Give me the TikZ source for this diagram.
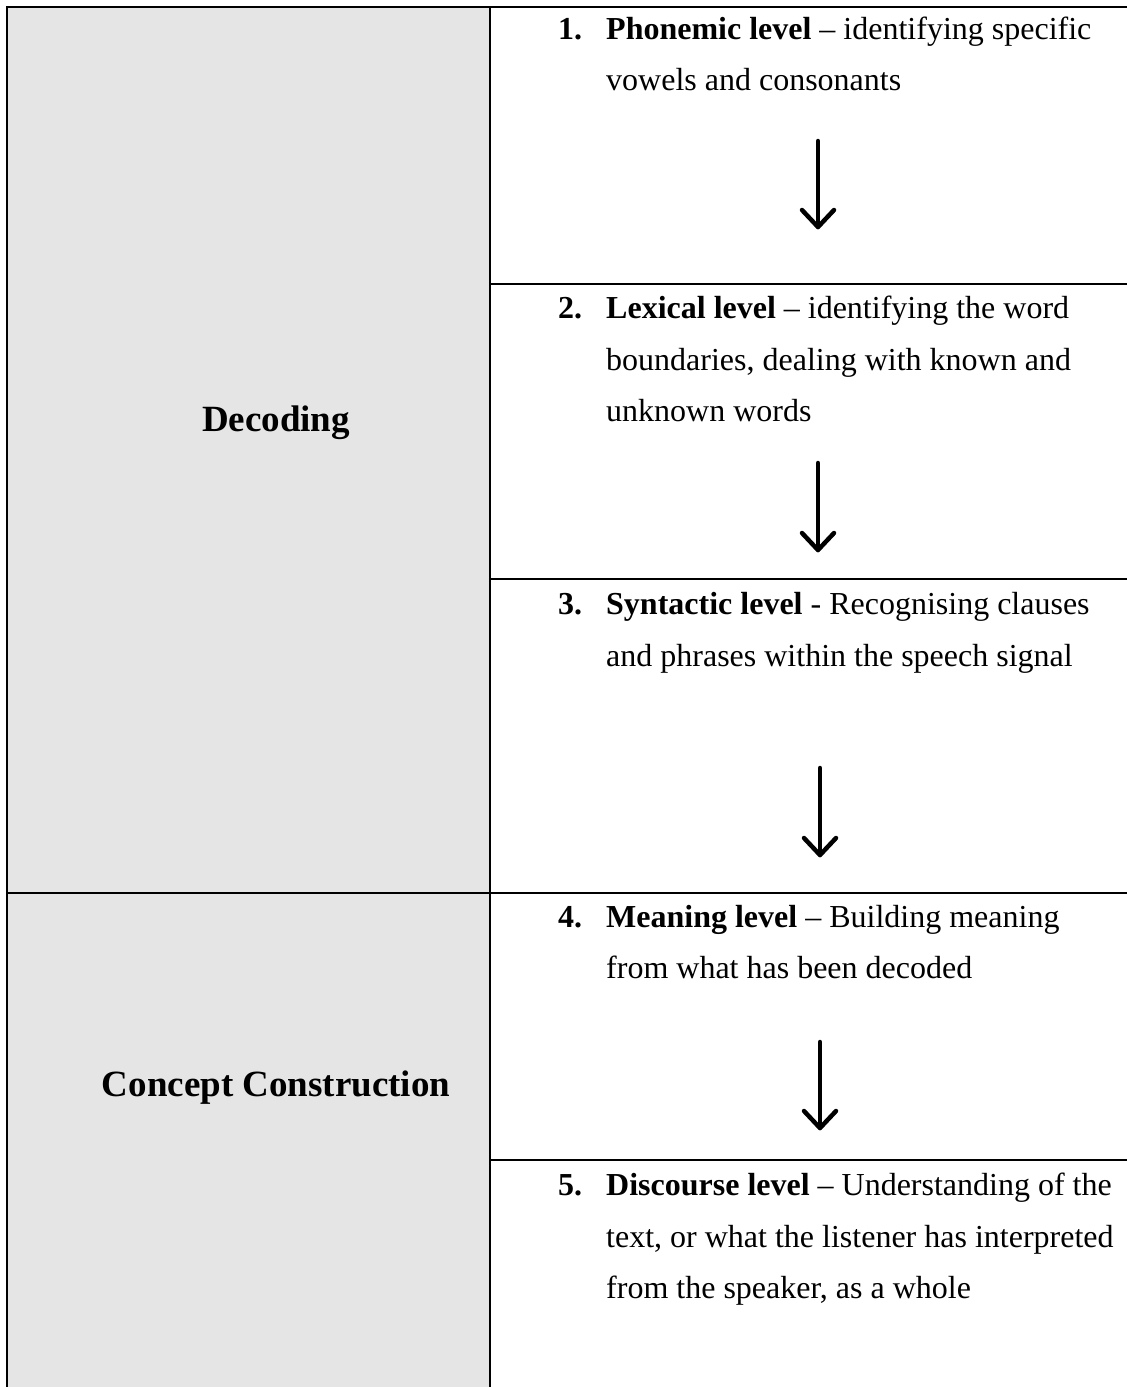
\documentclass[tikz,border=0pt]{standalone}
\usepackage{fontspec}
\setmainfont{Liberation Serif}
\begin{document}
\begin{tikzpicture}[x=1pt,y=-1pt,
  rule/.style={line width=2.8pt},
  body/.style={anchor=base west,inner sep=0pt,font=\fontsize{32}{38}\selectfont},
  num/.style={body,font=\fontsize{32}{38}\selectfont\bfseries},
  head/.style={anchor=base,inner sep=0pt,font=\fontsize{37}{44}\selectfont\bfseries},
  flow/.style={line width=4.5pt,line cap=round,line join=round}]
\useasboundingbox (0,0) rectangle (1127,1387);
\fill[white] (0,0) rectangle (1127,1387);
\fill[black!10] (7,7) rectangle (490,1387);
% grid
\draw[rule] (7,1387) -- (7,7) -- (1127,7);
\draw[rule] (490,7) -- (490,1387);
\draw[rule] (490,284) -- (1127,284);
\draw[rule] (490,579) -- (1127,579);
\draw[rule] (7,893) -- (1127,893);
\draw[rule] (490,1160) -- (1127,1160);
% left column
\node[head] (dec) at (276,431) {Decoding};
\node[head] (con) at (276,1096) {Concept Construction};
% row 1
\node[num] (n1) at (558,39) {1.};
\node[body] (t1a) at (606,39) {\textbf{Phonemic level} – identifying specific};
\node[body] (t1b) at (606,90) {vowels and consonants};
% row 2
\node[num] (n2) at (558,318) {2.};
\node[body] (t2a) at (606,318) {\textbf{Lexical level} – identifying the word};
\node[body] (t2b) at (606,370) {boundaries, dealing with known and};
\node[body] (t2c) at (606,421) {unknown words};
% row 3
\node[num] (n3) at (558,614) {3.};
\node[body] (t3a) at (606,614) {\textbf{Syntactic level} - Recognising clauses};
\node[body] (t3b) at (606,666) {and phrases within the speech signal};
% row 4
\node[num] (n4) at (558,927) {4.};
\node[body] (t4a) at (606,927) {\textbf{Meaning level} – Building meaning};
\node[body] (t4b) at (606,978) {from what has been decoded};
% row 5
\node[num] (n5) at (558,1195) {5.};
\node[body] (t5a) at (606,1195) {\textbf{Discourse level} – Understanding of the};
\node[body] (t5b) at (606,1247) {text, or what the listener has interpreted};
\node[body] (t5c) at (606,1298) {from the speaker, as a whole};
% arrows
\coordinate (a1s) at (818,141); \coordinate (a1e) at (818,227);
\coordinate (a2s) at (818,463); \coordinate (a2e) at (818,550);
\coordinate (a3s) at (820,768); \coordinate (a3e) at (820,855);
\coordinate (a4s) at (820,1042); \coordinate (a4e) at (820,1128);
\foreach \s/\e in {a1s/a1e,a2s/a2e,a3s/a3e,a4s/a4e}{
  \draw[flow] (\s) -- (\e);
  \draw[flow] ([shift={(-16,-17)}]\e) -- (\e) -- ([shift={(16,-17)}]\e);
}
\end{tikzpicture}
\end{document}
